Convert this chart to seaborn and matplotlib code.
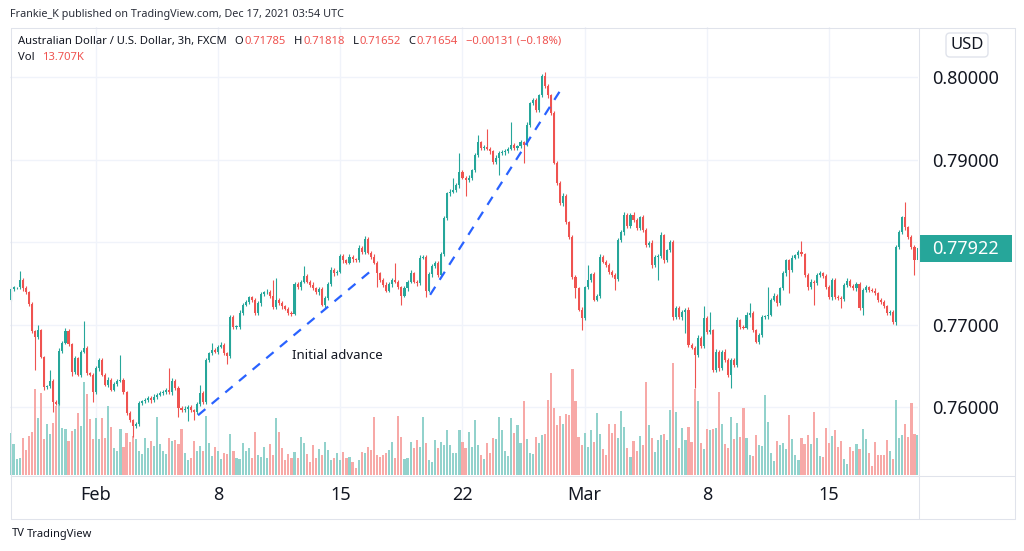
import matplotlib
matplotlib.use("Agg")
import matplotlib.pyplot as plt
from matplotlib.lines import Line2D
from matplotlib.patches import Rectangle, FancyBboxPatch
from matplotlib.transforms import IdentityTransform
import numpy as np
import pandas as pd
import seaborn as sns

W, H = 1024, 551

# AUD/USD 3h candles, late Jan -> 19 Mar 2021
first_open = 0.7730
closes = [
    0.7743, 0.7745, 0.7745, 0.7754, 0.7744, 0.7739, 0.7725, 0.7692, 0.7685, 0.7693,
    0.7661, 0.7624, 0.7625, 0.7632, 0.7606, 0.7604, 0.7668, 0.7678, 0.7692, 0.7676,
    0.7642, 0.7659, 0.7639, 0.7667, 0.7672, 0.7641, 0.7639, 0.7618, 0.7647, 0.7657,
    0.7639, 0.7627, 0.7633, 0.7621, 0.7628, 0.7632, 0.7633, 0.7618, 0.7593, 0.7584,
    0.7577, 0.7579, 0.7605, 0.7607, 0.7608, 0.7611, 0.7608, 0.7612, 0.7615, 0.7617,
    0.7618, 0.7621, 0.7618, 0.7632, 0.7623, 0.7599, 0.7596, 0.7598, 0.7600, 0.7596,
    0.7594, 0.7604, 0.7617, 0.7606, 0.7657, 0.7665, 0.7669, 0.7667, 0.7673, 0.7675,
    0.7665, 0.7662, 0.7709, 0.7697, 0.7697, 0.7714, 0.7724, 0.7727, 0.7733, 0.7730,
    0.7714, 0.7726, 0.7737, 0.7739, 0.7740, 0.7735, 0.7721, 0.7730, 0.7726, 0.7722,
    0.7719, 0.7714, 0.7713, 0.7749, 0.7745, 0.7752, 0.7759, 0.7752, 0.7748, 0.7744,
    0.7739, 0.7743, 0.7724, 0.7732, 0.7749, 0.7766, 0.7762, 0.7764, 0.7783, 0.7778,
    0.7775, 0.7782, 0.7779, 0.7778, 0.7793, 0.7788, 0.7804, 0.7787, 0.7782, 0.7775,
    0.7762, 0.7754, 0.7748, 0.7741, 0.7749, 0.7754, 0.7752, 0.7745, 0.7735, 0.7744,
    0.7752, 0.7762, 0.7752, 0.7750, 0.7781, 0.7782, 0.7741, 0.7761, 0.7771, 0.7775,
    0.7760, 0.7785, 0.7829, 0.7859, 0.7861, 0.7863, 0.7869, 0.7885, 0.7878, 0.7875,
    0.7878, 0.7887, 0.7905, 0.7921, 0.7914, 0.7915, 0.7913, 0.7910, 0.7897, 0.7902,
    0.7908, 0.7909, 0.7910, 0.7913, 0.7918, 0.7914, 0.7916, 0.7921, 0.7918, 0.7942,
    0.7968, 0.7972, 0.7960, 0.7978, 0.8001, 0.7989, 0.7978, 0.7956, 0.7896, 0.7872,
    0.7847, 0.7856, 0.7824, 0.7806, 0.7758, 0.7744, 0.7718, 0.7708, 0.7745, 0.7754,
    0.7761, 0.7730, 0.7735, 0.7782, 0.7776, 0.7772, 0.7764, 0.7760, 0.7755, 0.7802,
    0.7812, 0.7833, 0.7819, 0.7833, 0.7827, 0.7817, 0.7830, 0.7815, 0.7796, 0.7799,
    0.7772, 0.7782, 0.7783, 0.7808, 0.7778, 0.7790, 0.7800, 0.7709, 0.7720, 0.7709,
    0.7715, 0.7718, 0.7675, 0.7672, 0.7663, 0.7684, 0.7674, 0.7708, 0.7691, 0.7693,
    0.7645, 0.7667, 0.7647, 0.7667, 0.7657, 0.7639, 0.7657, 0.7651, 0.7705, 0.7697,
    0.7696, 0.7712, 0.7714, 0.7693, 0.7679, 0.7687, 0.7709, 0.7710, 0.7712, 0.7730,
    0.7735, 0.7726, 0.7744, 0.7762, 0.7778, 0.7766, 0.7781, 0.7784, 0.7788, 0.7785,
    0.7760, 0.7745, 0.7752, 0.7750, 0.7760, 0.7762, 0.7759, 0.7745, 0.7733, 0.7754,
    0.7733, 0.7732, 0.7731, 0.7748, 0.7753, 0.7747, 0.7744, 0.7749, 0.7720, 0.7742,
    0.7745, 0.7742, 0.7741, 0.7738, 0.7730, 0.7727, 0.7722, 0.7714, 0.7715, 0.7703,
    0.7794, 0.7812, 0.7830, 0.7818, 0.7806, 0.7794, 0.7778, 0.77922,
]

# wick lengths beyond the candle body, in pips
upper_wick_pips = [
    2, 2, 1, 11, 2, 3, 2, 2, 1, 6, 2, 1, 2, 13, 2, 2, 3, 2, 4, 2,
    2, 3, 2, 2, 32, 2, 2, 2, 3, 2, 2, 2, 3, 2, 2, 2, 30, 2, 1, 2,
    2, 3, 2, 2, 3, 2, 2, 4, 2, 2, 3, 2, 26, 3, 2, 2, 2, 3, 2, 2,
    2, 2, 10, 2, 3, 2, 9, 2, 2, 4, 2, 2, 3, 2, 2, 3, 2, 3, 2, 2,
    2, 3, 2, 2, 3, 2, 19, 26, 2, 2, 2, 2, 2, 3, 2, 2, 12, 2, 2, 3,
    2, 3, 2, 2, 3, 4, 2, 2, 3, 2, 2, 3, 2, 2, 3, 2, 3, 2, 2, 3,
    2, 2, 2, 3, 2, 2, 20, 2, 2, 3, 2, 4, 2, 2, 3, 2, 2, 3, 2, 2,
    2, 3, 2, 2, 3, 15, 2, 23, 2, 2, 3, 2, 3, 9, 2, 2, 22, 2, 2, 3,
    2, 2, 3, 2, 27, 2, 2, 3, 2, 3, 2, 3, 2, 2, 3, 5, 2, 2, 3, 2,
    2, 3, 2, 2, 3, 2, 2, 3, 2, 18, 2, 3, 2, 3, 2, 2, 3, 2, 2, 3,
    2, 3, 2, 2, 3, 2, 2, 3, 2, 2, 3, 2, 2, 4, 2, 2, 3, 2, 2, 3,
    2, 2, 3, 2, 2, 3, 2, 14, 2, 22, 2, 3, 2, 2, 3, 2, 2, 3, 4, 2,
    2, 3, 12, 2, 2, 3, 2, 2, 33, 2, 3, 2, 2, 3, 2, 2, 3, 2, 2, 13,
    2, 2, 3, 2, 2, 3, 2, 2, 3, 2, 2, 3, 2, 2, 3, 2, 2, 3, 2, 2,
    3, 2, 2, 3, 2, 2, 3, 2, 2, 3, 2, 3, 2, 18, 2, 3, 2, 2,
]
lower_wick_pips = [
    2, 2, 2, 2, 3, 2, 2, 2, 40, 2, 2, 3, 2, 2, 12, 2, 2, 3, 2, 2,
    4, 2, 2, 3, 2, 2, 2, 12, 2, 3, 2, 2, 3, 2, 2, 3, 2, 2, 3, 2,
    13, 2, 2, 3, 2, 2, 3, 2, 2, 2, 3, 2, 2, 3, 2, 11, 2, 2, 15, 2,
    10, 2, 3, 2, 2, 3, 2, 2, 3, 2, 2, 10, 2, 3, 2, 2, 3, 2, 2, 3,
    2, 2, 3, 2, 2, 3, 2, 2, 2, 3, 2, 2, 3, 2, 2, 3, 2, 2, 3, 2,
    2, 3, 2, 4, 2, 2, 3, 2, 2, 3, 2, 2, 3, 2, 2, 3, 2, 2, 3, 2,
    17, 2, 3, 2, 2, 3, 2, 2, 11, 2, 3, 2, 2, 3, 2, 2, 8, 2, 3, 2,
    2, 3, 2, 2, 3, 2, 2, 3, 2, 19, 2, 3, 2, 2, 3, 2, 2, 3, 2, 2,
    21, 2, 3, 2, 2, 3, 2, 2, 22, 2, 3, 2, 2, 3, 2, 2, 3, 2, 2, 3,
    2, 3, 2, 2, 3, 12, 2, 15, 2, 2, 3, 2, 2, 3, 2, 2, 3, 2, 13, 2,
    2, 3, 2, 2, 3, 2, 2, 3, 2, 2, 3, 2, 28, 2, 3, 2, 2, 3, 2, 2,
    3, 25, 2, 2, 40, 2, 3, 2, 2, 3, 2, 2, 3, 2, 2, 3, 16, 2, 2, 3,
    2, 2, 3, 2, 2, 3, 2, 2, 3, 2, 2, 3, 2, 2, 3, 28, 2, 2, 3, 2,
    2, 3, 2, 26, 2, 2, 3, 2, 2, 3, 2, 2, 11, 2, 3, 2, 2, 3, 2, 8,
    2, 3, 2, 2, 3, 2, 2, 3, 2, 2, 3, 2, 2, 3, 2, 3, 18, 2,
]

# volume per candle (relative units, axis hidden)
volumes = [
    42, 31, 16, 17, 37, 25, 39, 43, 86, 57, 82, 36, 51, 41, 52, 69, 84, 47, 46, 34,
    44, 46, 62, 49, 93, 81, 56, 36, 57, 36, 57, 37, 69, 48, 27, 24, 46, 28, 42, 33,
    39, 36, 24, 21, 37, 27, 34, 29, 58, 31, 24, 21, 37, 34, 35, 31, 46, 22, 15, 17,
    34, 24, 29, 24, 59, 32, 19, 28, 24, 16, 22, 21, 41, 24, 17, 16, 32, 24, 27, 17,
    43, 20, 18, 28, 17, 31, 20, 57, 43, 27, 15, 21, 17, 23, 17, 38, 32, 21, 13, 30,
    17, 26, 20, 33, 25, 15, 17, 22, 15, 23, 17, 18, 13, 7, 15, 23, 22, 28, 25, 58,
    20, 18, 20, 22, 25, 33, 17, 59, 38, 16, 17, 33, 27, 35, 28, 58, 32, 15, 13, 35,
    27, 33, 30, 45, 30, 22, 22, 45, 33, 27, 43, 28, 55, 30, 20, 16, 32, 22, 37, 36,
    58, 45, 24, 19, 57, 42, 50, 32, 74, 36, 22, 21, 38, 32, 40, 41, 75, 102, 67, 50,
    59, 51, 61, 60, 106, 74, 38, 30, 42, 28, 45, 33, 62, 41, 26, 20, 51, 42, 51, 37,
    64, 48, 27, 18, 34, 24, 39, 30, 93, 50, 37, 23, 35, 40, 41, 35, 65, 112, 63, 27,
    47, 35, 48, 33, 86, 74, 32, 26, 46, 45, 46, 47, 83, 51, 31, 27, 58, 36, 52, 38,
    67, 37, 20, 19, 40, 30, 29, 80, 53, 22, 14, 34, 30, 32, 26, 60, 36, 20, 15, 37,
    31, 40, 31, 63, 37, 19, 18, 47, 32, 39, 45, 28, 34, 16, 11, 28, 24, 31, 26, 46,
    36, 22, 9, 33, 20, 20, 20, 35, 24, 16, 75, 37, 40, 51, 38, 72, 41, 40,
]

tick_positions = [28, 68, 108, 148, 188, 228, 268]
tick_labels = ["Feb", "8", "15", "22", "Mar", "8", "15"]
price_ticks = [0.76, 0.77, 0.78, 0.79, 0.80]
price_labels = ["0.76000", "0.77000", "", "0.79000", "0.80000"]
last_price = 0.77922

# hand drawn dashed trend lines (candle index, price)
trend1_x = [61.4, 117.7]
trend1_y = [0.7590, 0.7764]
trend2_x = [137.4, 180.6]
trend2_y = [0.7736, 0.7987]

UP, DOWN = "#26a69a", "#ef5350"
VOL_UP, VOL_DOWN = "#92d2cc", "#f7a9a7"
DARK = "#131722"
GRID = "#f0f3fa"
FRAME = "#e0e3eb"
TREND = "#2962ff"

assert len(closes) == len(upper_wick_pips) == len(lower_wick_pips) == len(volumes), (
    len(closes), len(upper_wick_pips), len(lower_wick_pips), len(volumes))

n = len(closes)
idx = np.arange(n)
close = np.array(closes)
opens = np.concatenate([[first_open], close[:-1]])
rising = close >= opens
body_top = np.maximum(opens, close)
body_bot = np.minimum(opens, close)
highs = body_top + np.array(upper_wick_pips) * 1e-4
lows = body_bot - np.array(lower_wick_pips) * 1e-4

sns.set_style("white")
plt.rcParams["font.family"] = ["Noto Sans", "DejaVu Sans"]

fig = plt.figure(figsize=(W / 100, H / 100), dpi=100)
PX = IdentityTransform()


def pos(x, y):
    return x / W, 1 - y / H


left, right, top, bottom = 10, 918, 27, 475
rect = [left / W, 1 - bottom / H, (right - left) / W, (bottom - top) / H]
xlim = (-0.164, 297.15)
ylim = (0.751758, 0.806061)

# bottom layer: grid + volume
ax_vol = fig.add_axes(rect)
ax = fig.add_axes(rect)
ax.patch.set_visible(False)

vol_df = pd.DataFrame({"idx": idx, "volume": volumes,
                       "side": np.where(rising, "up", "down")})
sns.barplot(data=vol_df, x="idx", y="volume", hue="side",
            palette={"up": VOL_UP, "down": VOL_DOWN}, native_scale=True,
            width=0.7, dodge=False, saturation=1, errorbar=None,
            legend=False, linewidth=0, ax=ax_vol)
ax_vol.set_xlim(xlim)
ax_vol.set_ylim(0, bottom - top)
for p in price_ticks:
    ax_vol.plot([xlim[0], xlim[1]], [p, p], transform=ax.transData,
                color=GRID, lw=1, zorder=0)
for t in tick_positions:
    ax_vol.axvline(t, color=GRID, lw=1, zorder=0)
ax_vol.set_xticks([])
ax_vol.set_yticks([])
ax_vol.set_xlabel("")
ax_vol.set_ylabel("")
for s in ax_vol.spines.values():
    s.set_visible(False)

# candles
colors = np.where(rising, UP, DOWN)
ax.vlines(idx, lows, highs, colors=colors, lw=0.8, zorder=2)
ax.bar(idx, np.maximum(body_top - body_bot, 0.00008), bottom=body_bot,
       width=0.68, color=colors, linewidth=0, zorder=3)

for tx, ty in [(trend1_x, trend1_y), (trend2_x, trend2_y)]:
    sns.lineplot(x=tx, y=ty, ax=ax, color=TREND, lw=1.6,
                 linestyle=(0, (4.3, 3.7)), zorder=4)

ax.text(92.2, 0.7663, "Initial advance", fontsize=9.5, color=DARK,
        va="center", ha="left", zorder=5)

ax.set_xlim(xlim)
ax.set_ylim(ylim)
ax.yaxis.tick_right()
ax.set_yticks(price_ticks, price_labels)
ax.set_xticks(tick_positions, tick_labels)
ax.tick_params(length=0, labelsize=13, labelcolor=DARK)
ax.tick_params(axis="y", pad=10)
ax.tick_params(axis="x", pad=8)
ax.grid(False)
for s in ax.spines.values():
    s.set_visible(False)

# frame lines (pixel coordinates)
frame_r = 1014
segments = [
    ((left, top), (frame_r, top)),
    ((left, 518), (frame_r, 518)),
    ((left, top), (left, 518)),
    ((frame_r, top), (frame_r, 518)),
    ((right, top), (right, 518)),
    ((left, bottom), (frame_r, bottom)),
]
for (x0, y0), (x1, y1) in segments:
    fig.add_artist(Line2D([x0 + 0.5, x1 + 0.5], [H - y0 - 0.5, H - y1 - 0.5],
                          transform=PX, color=FRAME, lw=0.75))

# current price label
fig.add_artist(Rectangle((920, H - 262), 92, 27, transform=PX,
                         facecolor=UP, edgecolor="none"))
fig.text(*pos(932, 248.5), f"{last_price:.5f}", color="white", fontsize=13,
         va="center", ha="left")

# currency button
fig.add_artist(FancyBboxPatch((946, H - 57), 42, 24,
                              boxstyle="round,pad=0,rounding_size=4",
                              transform=PX, facecolor="white",
                              edgecolor=FRAME, lw=1))
fig.text(*pos(967, 45), "USD", color=DARK, fontsize=12, va="center", ha="center")

# header and legend text
renderer = fig.canvas.get_renderer()


def text_run(x, y, pieces, size):
    for s, color, gap in pieces:
        t = fig.text(*pos(x, y), s, color=color, fontsize=size, va="center", ha="left")
        x += t.get_window_extent(renderer).width + gap


fig.text(*pos(10, 14), "Frankie_K published on TradingView.com, Dec 17, 2021 03:54 UTC",
         color="#2a2e39", fontsize=7.8, va="center", ha="left")
text_run(18, 41, [
    ("Australian Dollar / U.S. Dollar, 3h, FXCM", DARK, 8),
    ("O", DARK, 1), ("0.71785", DOWN, 8),
    ("H", DARK, 1), ("0.71818", DOWN, 8),
    ("L", DARK, 1), ("0.71652", DOWN, 8),
    ("C", DARK, 1), ("0.71654", DOWN, 8),
    ("\u22120.00131 (\u22120.18%)", DOWN, 0),
], 8.1)
text_run(18, 58, [("Vol", DARK, 7), ("13.707K", DOWN, 0)], 8.1)

fig.text(*pos(12, 534), "TV", color=DARK, fontsize=8, fontweight="bold",
         va="center", ha="left")
fig.text(*pos(27, 534), "TradingView", color=DARK, fontsize=8, va="center", ha="left")

fig.savefig("out.png", dpi=100, facecolor="white")
